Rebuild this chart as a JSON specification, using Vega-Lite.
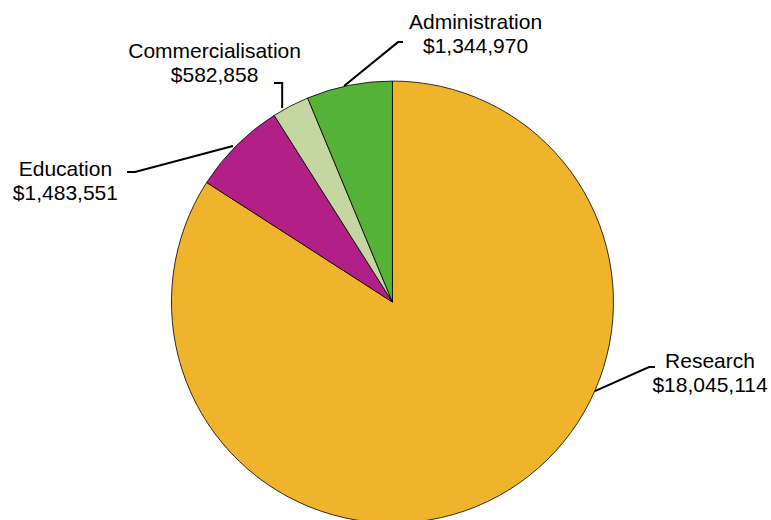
{
  "$schema": "https://vega.github.io/schema/vega-lite/v6.json",
  "width": 771,
  "height": 520,
  "autosize": "none",
  "padding": 0,
  "background": "white",
  "config": {"view": {"stroke": null}},
  "datasets": {
    "slices": [
      {"category": "Research", "amount": 18045114, "ord": 1},
      {"category": "Education", "amount": 1483551, "ord": 2},
      {"category": "Commercialisation", "amount": 582858, "ord": 3},
      {"category": "Administration", "amount": 1344970, "ord": 4}
    ],
    "labels": [
      {"category": "Research", "label": "Research\n$18,045,114", "u": 1.437, "v": -0.324},
      {"category": "Education", "label": "Education\n$1,483,551", "u": -1.48, "v": 0.541},
      {"category": "Commercialisation", "label": "Commercialisation\n$582,858", "u": -0.805, "v": 1.079},
      {"category": "Administration", "label": "Administration\n$1,344,970", "u": 0.376, "v": 1.21}
    ],
    "leaders": [
      {"category": "Research", "step": 1, "u": 1.188, "v": -0.294},
      {"category": "Research", "step": 2, "u": 1.161, "v": -0.294},
      {"category": "Research", "step": 3, "u": 0.916, "v": -0.403},
      {"category": "Education", "step": 1, "u": -1.201, "v": 0.588},
      {"category": "Education", "step": 2, "u": -1.165, "v": 0.588},
      {"category": "Education", "step": 3, "u": -0.722, "v": 0.706},
      {"category": "Commercialisation", "step": 1, "u": -0.536, "v": 0.991},
      {"category": "Commercialisation", "step": 2, "u": -0.499, "v": 0.991},
      {"category": "Commercialisation", "step": 3, "u": -0.499, "v": 0.878},
      {"category": "Administration", "step": 1, "u": 0.0475, "v": 1.176},
      {"category": "Administration", "step": 2, "u": 0.025, "v": 1.176},
      {"category": "Administration", "step": 3, "u": -0.219, "v": 0.977}
    ]
  },
  "layer": [
    {
      "data": {"name": "slices"},
      "mark": {"type": "arc", "outerRadius": 221, "stroke": "black", "strokeWidth": 0.8},
      "encoding": {
        "x": {"datum": 0, "type": "quantitative", "scale": {"domain": [-1.776, 1.713], "nice": false, "zero": false}, "axis": null},
        "y": {"datum": 0, "type": "quantitative", "scale": {"domain": [-0.986, 1.3665], "nice": false, "zero": false}, "axis": null},
        "theta": {"field": "amount", "type": "quantitative", "stack": true},
        "order": {"field": "ord", "type": "quantitative"},
        "color": {
          "field": "category",
          "type": "nominal",
          "scale": {
            "domain": ["Research", "Education", "Commercialisation", "Administration"],
            "range": ["#EFB42C", "#B11F87", "#C4D7A0", "#54B236"]
          },
          "legend": null
        }
      }
    },
    {
      "data": {"name": "leaders"},
      "mark": {"type": "line", "color": "black", "strokeWidth": 2},
      "encoding": {
        "x": {"field": "u", "type": "quantitative"},
        "y": {"field": "v", "type": "quantitative"},
        "detail": {"field": "category"},
        "order": {"field": "step", "type": "quantitative"}
      }
    },
    {
      "data": {"name": "labels"},
      "mark": {"type": "text", "font": "Liberation Sans", "fontSize": 21, "lineHeight": 24, "lineBreak": "\n", "align": "center", "baseline": "middle", "dy": -12, "color": "black"},
      "encoding": {
        "x": {"field": "u", "type": "quantitative"},
        "y": {"field": "v", "type": "quantitative"},
        "text": {"field": "label"}
      }
    }
  ],
  "resolve": {"scale": {"x": "shared", "y": "shared"}}
}
